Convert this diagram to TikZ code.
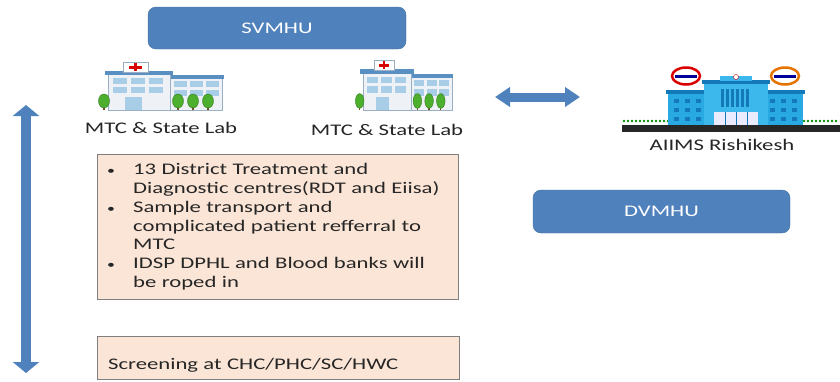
\documentclass[tikz,border=0pt]{standalone}
\usepackage{fontspec}
\setmainfont{Carlito}[FakeStretch=1.4]
\usetikzlibrary{arrows.meta, positioning}

\definecolor{boxblue}{HTML}{4F81BD}
\definecolor{boxedge}{HTML}{41719C}
\definecolor{peach}{HTML}{FBE5D6}
\definecolor{peachedge}{HTML}{7F7F7F}
\definecolor{txt}{HTML}{262626}
\definecolor{hwall}{HTML}{EEF2F6}
\definecolor{hline}{HTML}{9AAFC4}
\definecolor{hroof}{HTML}{5A8FC2}
\definecolor{hwin}{HTML}{A8CDE6}
\definecolor{tree}{HTML}{4CAF2E}
\definecolor{wing}{HTML}{29A9E1}
\definecolor{wingdark}{HTML}{1479B8}
\definecolor{centre}{HTML}{3DB8EC}

\newcommand{\blt}{\makebox[26pt][l]{\scalebox{0.7}{\textbullet}}}

\begin{document}
\begin{tikzpicture}[x=1pt, y=-1pt,
        txtfont/.style={font=\fontsize{16.2}{18.7}\selectfont},
        lbl/.style={txtfont, text=txt, anchor=base},
        blubox/.style={txtfont, draw=boxedge, fill=boxblue, rounded corners=8pt, minimum width=258pt, minimum height=42pt, text=white},
        notebox/.style={txtfont, draw=peachedge, fill=peach, text=txt, align=left, anchor=north west},
        bigarrow/.style={boxblue, line width=10pt, arrows={Triangle[width=26pt,length=11pt]-Triangle[width=26pt,length=11pt]}},
        sidearrow/.style={boxblue, line width=9pt, arrows={Triangle[width=19pt,length=15pt]-Triangle[width=19pt,length=15pt]}},
        hosp/.pic={
            % right wing
            \filldraw[fill=hwall, draw=hline] (70,16) rectangle (124,48);
            \fill[hroof] (68,13) rectangle (126,17);
            % main block
            \filldraw[fill=hwall, draw=hline] (10,11) rectangle (72,48);
            \fill[hroof] (7,9) rectangle (75,13);
            % tower with cross
            \filldraw[fill=white, draw=hline] (25,0) rectangle (50,10);
            \fill[red!85!black] (31,3.5) rectangle (44,6.5);
            \fill[red!85!black] (36,1) rectangle (39,9);
            % windows
            \foreach \wx in {15,33,51}
                \foreach \wy in {16,25}
                    \fill[hwin] (\wx,\wy) rectangle ++(14,6);
            \foreach \wx in {76,92,108}
                \foreach \wy in {19,28}
                    \fill[hwin] (\wx,\wy) rectangle ++(13,6);
            % door
            \fill[hwin] (27,35) rectangle (44,48);
            % trees
            \foreach \tx in {6,80,95,110} {
                \fill[brown!60!black] (\tx-0.8,40) rectangle (\tx+0.8,48);
                \filldraw[fill=tree, draw=tree!70!black] (\tx,39) ellipse (5.5pt and 7pt);
            }
        },
        aiims/.pic={
            % grass and ground
            \foreach \gx in {2,6,...,216}
                \fill[green!55!black] (\gx,54) circle (1.4pt);
            \fill[black!85] (0,58) rectangle (218,65);
            % wings
            \fill[wing] (46,25) rectangle (86,58);
            \fill[wing] (142,25) rectangle (181,58);
            \fill[wingdark] (44,23) rectangle (88,27);
            \fill[wingdark] (140,23) rectangle (183,27);
            \foreach \wx in {52,63,74,148,159,170}
                \foreach \wy in {32,41,50}
                    \fill[wingdark] (\wx,\wy) rectangle ++(5,4);
            % centre block
            \fill[centre] (82,15) rectangle (146,58);
            \fill[wingdark] (80,13) rectangle (148,17);
            \fill[centre] (98,9) rectangle (130,14);
            \filldraw[fill=white, draw=red!80!black] (114,10) circle (2.5pt);
            \foreach \vx in {99,104,...,124}
                \fill[wingdark] (\vx,22) rectangle ++(3,18);
            \fill[blue!8] (92,45) rectangle (136,58);
            \foreach \dx in {103,114,125}
                \draw[wingdark] (\dx,45) -- (\dx,58);
            % round signs
            \filldraw[fill=white, draw=red!85!black, line width=2.5pt] (64,9) ellipse (14pt and 8.5pt);
            \fill[blue!60!black] (53,7.5) rectangle (75,10.5);
            \filldraw[fill=white, draw=orange!90!black, line width=2.5pt] (163,9) ellipse (14pt and 8.5pt);
            \fill[blue!60!black] (152,7.5) rectangle (174,10.5);
        }]
        \useasboundingbox (0,0) rectangle (840,381);

        \node[blubox] (svmhu) at (277,28) {SVMHU};
        \node[blubox, minimum width=257pt, minimum height=43pt] (dvmhu) at (661.5,211.5) {DVMHU};

        \pic at (98,62) {hosp};
        \pic[xscale=0.78, yscale=1.05] at (355,60) {hosp};
        \pic at (622,67) {aiims};

        \node[lbl] (mtc1) at (161,133) {MTC \& State Lab};
        \node[lbl] (mtc2) at (387,135) {MTC \& State Lab};
        \node[lbl] (aiims) at (722,150) {AIIMS Rishikesh};

        \node[notebox, text width=341pt, minimum height=145pt, inner xsep=10pt] (dtc) at (97,154)
            {\blt13 District Treatment and\\
             \hspace*{26pt}Diagnostic centres(RDT and Eiisa)\\
             \blt Sample transport and\\
             \hspace*{26pt}complicated patient refferral to\\
             \hspace*{26pt}MTC\\
             \blt IDSP DPHL and Blood banks will\\
             \hspace*{26pt}be roped in};
        \node[notebox, below=37pt of dtc.south west, anchor=north west, text width=340pt, inner xsep=11pt,
            minimum height=43pt, text height=23pt, text depth=0pt] (screen)
            {Screening at CHC/PHC/SC/HWC};

        \coordinate (up) at (26,105);
        \coordinate (down) at (26,373);
        \coordinate (west) at (495,97);
        \coordinate (east) at (580,97);
        \draw[bigarrow] (up) -- (down);
        \draw[sidearrow] (west) -- (east);
\end{tikzpicture}
\end{document}
